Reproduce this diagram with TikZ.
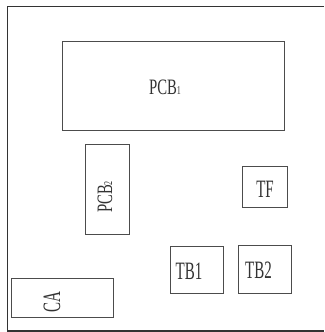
\documentclass[tikz,border=0pt]{standalone}
\usepackage{fontspec}
\newfontfamily\cnf[FakeStretch=0.6]{Liberation Serif}
\newfontfamily\cnfw[FakeStretch=0.67]{Liberation Serif}
\begin{document}
\begin{tikzpicture}[x=1pt,y=1pt,
  frame/.style={line width=1.6pt,draw=black!80},
  box/.style={line width=1pt,draw=black!70},
  lbl/.style={font=\cnf\fontsize{25}{27}\selectfont,text=black!80,inner sep=0pt},
  pcblbl/.style={font=\cnfw\fontsize{22}{24}\selectfont,text=black!80,inner sep=0pt}]
\useasboundingbox (0,0) rectangle (324,332);
\coordinate (tr) at (324,325.5);
\coordinate (tl) at (7.5,325.5);
\coordinate (bl) at (7.5,1);
\coordinate (br) at (324,1);
\draw[frame] (tr) -- (tl) -- (bl) -- (br);
\draw[box] (62,201) rectangle (284,290);
\draw[box] (85,97) rectangle (129,187);
\draw[box] (242,124) rectangle (287,165);
\draw[box] (170,38) rectangle (223,85);
\draw[box] (238,38) rectangle (291,86);
\draw[box] (11,14) rectangle (113,53);
\node[pcblbl] (pcb1) at (165,245) {PCB{\fontsize{12}{13}\selectfont 1}};
\node[pcblbl,rotate=90] (pcb2) at (105,135) {PCB{\fontsize{12}{13}\selectfont 2}};
\node[lbl] (tf) at (265,143) {TF};
\node[lbl] (tb1) at (189,61) {TB1};
\node[lbl] (tb2) at (258.5,62) {TB2};
\node[lbl,rotate=90] (ca) at (52,30) {CA};
\end{tikzpicture}
\end{document}
